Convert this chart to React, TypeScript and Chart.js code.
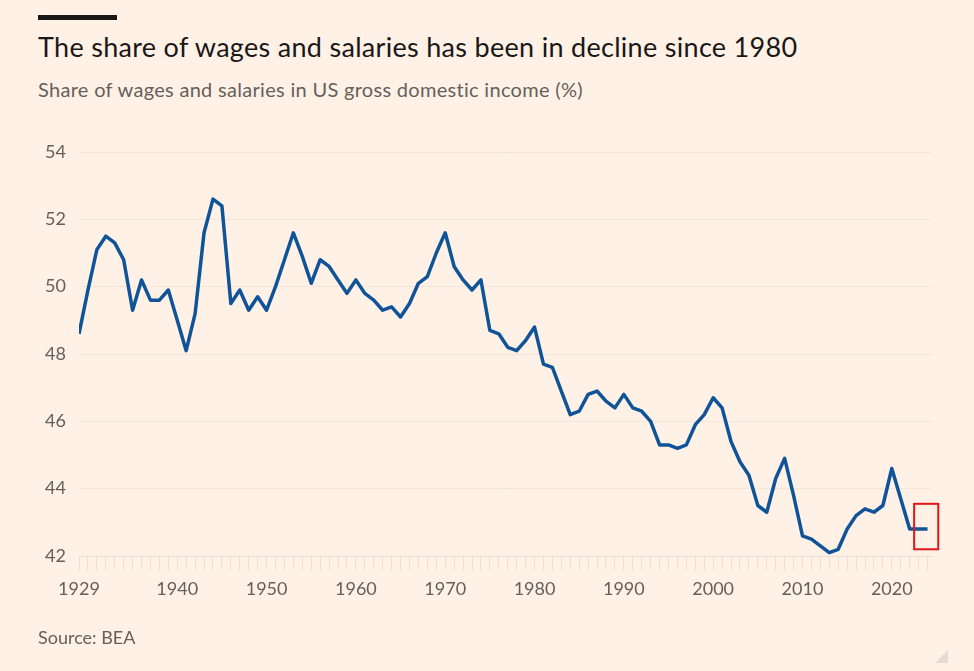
import React, { useEffect, useRef } from "react";
import { Chart, registerables } from "chart.js";

Chart.register(...registerables);

const TITLE = "The share of wages and salaries has been in decline since 1980";
const SUBTITLE = "Share of wages and salaries in US gross domestic income (%)";
const SOURCE = "Source: BEA";

const YEARS = [
  1929, 1930, 1931, 1932, 1933, 1934, 1935, 1936, 1937, 1938, 1939,
  1940, 1941, 1942, 1943, 1944, 1945, 1946, 1947, 1948, 1949,
  1950, 1951, 1952, 1953, 1954, 1955, 1956, 1957, 1958, 1959,
  1960, 1961, 1962, 1963, 1964, 1965, 1966, 1967, 1968, 1969,
  1970, 1971, 1972, 1973, 1974, 1975, 1976, 1977, 1978, 1979,
  1980, 1981, 1982, 1983, 1984, 1985, 1986, 1987, 1988, 1989,
  1990, 1991, 1992, 1993, 1994, 1995, 1996, 1997, 1998, 1999,
  2000, 2001, 2002, 2003, 2004, 2005, 2006, 2007, 2008, 2009,
  2010, 2011, 2012, 2013, 2014, 2015, 2016, 2017, 2018, 2019,
  2020, 2021, 2022, 2023, 2024,
];

const WAGE_SHARE = [
  48.6, 49.9, 51.1, 51.5, 51.3, 50.8, 49.3, 50.2, 49.6, 49.6, 49.9,
  49.0, 48.1, 49.2, 51.6, 52.6, 52.4, 49.5, 49.9, 49.3, 49.7,
  49.3, 50.0, 50.8, 51.6, 50.9, 50.1, 50.8, 50.6, 50.2, 49.8,
  50.2, 49.8, 49.6, 49.3, 49.4, 49.1, 49.5, 50.1, 50.3, 51.0,
  51.6, 50.6, 50.2, 49.9, 50.2, 48.7, 48.6, 48.2, 48.1, 48.4,
  48.8, 47.7, 47.6, 46.9, 46.2, 46.3, 46.8, 46.9, 46.6, 46.4,
  46.8, 46.4, 46.3, 46.0, 45.3, 45.3, 45.2, 45.3, 45.9, 46.2,
  46.7, 46.4, 45.4, 44.8, 44.4, 43.5, 43.3, 44.3, 44.9, 43.8,
  42.6, 42.5, 42.3, 42.1, 42.2, 42.8, 43.2, 43.4, 43.3, 43.5,
  44.6, 43.7, 42.8, 42.8, 42.8,
];

const X_TICK_LABELS = [1929, 1940, 1950, 1960, 1970, 1980, 1990, 2000, 2010, 2020];
const Y_TICKS = [42, 44, 46, 48, 50, 52, 54];
const X_RANGE = [1929, 2024.5];
const HIGHLIGHT_YEARS = [2022.5, 2025.2];
const HIGHLIGHT_VALUES = [42.2, 43.55];

const BG = "#FFF1E5";
const LINE = "#0F5499";
const LABEL = "#66605C";
const FONT = "Lato, 'Open Sans', sans-serif";

const highlightBox = {
  id: "highlightBox",
  afterDraw(chart: any) {
    const { ctx, scales } = chart;
    const x0 = scales.x.getPixelForValue(HIGHLIGHT_YEARS[0]);
    const x1 = scales.x.getPixelForValue(HIGHLIGHT_YEARS[1]);
    const y0 = scales.y.getPixelForValue(HIGHLIGHT_VALUES[1]);
    const y1 = scales.y.getPixelForValue(HIGHLIGHT_VALUES[0]);
    ctx.save();
    ctx.strokeStyle = "#E3161B";
    ctx.lineWidth = 2;
    ctx.strokeRect(x0, y0, x1 - x0, y1 - y0);
    ctx.restore();
  },
};

export default function App() {
  const canvasRef = useRef<HTMLCanvasElement | null>(null);

  useEffect(() => {
    document.body.style.margin = "0";
    document.body.style.background = BG;
    const canvas = canvasRef.current;
    if (!canvas) return;
    const chart = new Chart(canvas, {
      type: "line",
      data: {
        datasets: [
          {
            data: YEARS.map((yr, i) => ({ x: yr, y: WAGE_SHARE[i] })),
            borderColor: LINE,
            borderWidth: 3.5,
            pointRadius: 0,
            tension: 0,
            borderJoinStyle: "round",
            borderCapStyle: "butt",
            fill: false,
          },
        ],
      },
      options: {
        animation: false,
        responsive: false,
        maintainAspectRatio: false,
        events: [],
        layout: { padding: { left: 45, top: 152, right: 42, bottom: 65 } },
        plugins: {
          legend: { display: false },
          tooltip: { enabled: false },
          title: { display: false },
        },
        scales: {
          x: {
            type: "linear",
            min: X_RANGE[0],
            max: X_RANGE[1],
            afterBuildTicks: (scale: any) => {
              scale.ticks = YEARS.map((v) => ({ value: v }));
            },
            afterFit: (scale: any) => {
              scale.height = 50;
            },
            ticks: {
              autoSkip: false,
              maxRotation: 0,
              minRotation: 0,
              padding: 8,
              color: LABEL,
              font: { family: FONT, size: 18 },
              callback: (v: any) => (X_TICK_LABELS.includes(Number(v)) ? String(v) : ""),
            },
            grid: {
              drawOnChartArea: false,
              drawTicks: true,
              tickLength: 14,
              color: "#EDDFD3",
              lineWidth: 1,
            },
            border: { display: true, color: "#EDDFD3", width: 1 },
          },
          y: {
            min: 42,
            max: 54,
            afterBuildTicks: (scale: any) => {
              scale.ticks = Y_TICKS.map((v) => ({ value: v }));
            },
            afterFit: (scale: any) => {
              scale.width = 34;
            },
            ticks: {
              crossAlign: "far",
              padding: 10,
              color: LABEL,
              font: { family: FONT, size: 18 },
            },
            grid: {
              drawTicks: false,
              color: "#F5E6DA",
              lineWidth: 1,
            },
            border: { display: false },
          },
        },
      },
      plugins: [highlightBox],
    } as any);
    return () => chart.destroy();
  }, []);

  return (
    <div
      style={{
        position: "absolute",
        left: 0,
        top: 0,
        width: 974,
        height: 671,
        background: BG,
        overflow: "hidden",
        fontFamily: FONT,
      }}
    >
      <div style={{ position: "absolute", left: 38, top: 15, width: 79, height: 5, background: "#1A1817" }} />
      <div
        style={{
          position: "absolute",
          left: 38,
          top: 33,
          fontSize: 27,
          lineHeight: "27px",
          letterSpacing: "0.3px",
          color: "#1A1817",
          whiteSpace: "nowrap",
        }}
      >
        {TITLE}
      </div>
      <div
        style={{
          position: "absolute",
          left: 38,
          top: 79,
          fontSize: 20,
          lineHeight: "20px",
          letterSpacing: "0.3px",
          color: LABEL,
          whiteSpace: "nowrap",
        }}
      >
        {SUBTITLE}
      </div>
      <canvas ref={canvasRef} width={974} height={671} style={{ position: "absolute", left: 0, top: 0, width: 974, height: 671 }} />
      <div
        style={{
          position: "absolute",
          left: 38,
          top: 628,
          fontSize: 18,
          lineHeight: "18px",
          color: LABEL,
          whiteSpace: "nowrap",
        }}
      >
        {SOURCE}
      </div>
      <div
        style={{
          position: "absolute",
          left: 935,
          top: 650,
          width: 0,
          height: 0,
          borderLeft: "13px solid transparent",
          borderBottom: "13px solid #E6DCD4",
        }}
      />
    </div>
  );
}
